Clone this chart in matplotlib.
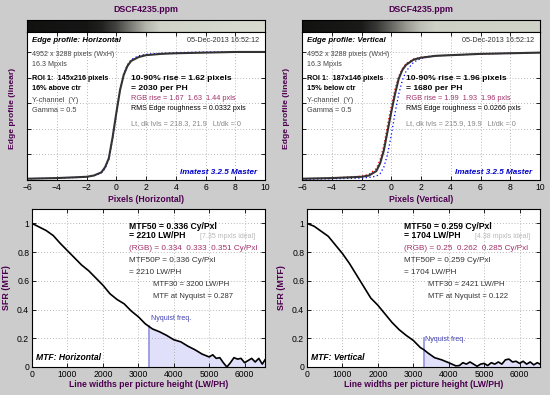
import numpy as np
import matplotlib
matplotlib.use("Agg")
import matplotlib.pyplot as plt
from matplotlib.colors import LinearSegmentedColormap

plt.rcParams['font.family'] = ['Liberation Sans', 'DejaVu Sans']

W, H = 550, 395
BG = '#cccccc'
PURPLE = '#4d0050'
MAGENTA = '#a0306a'

# ---------------- data ----------------
edge_x_h = [-6, -4, -2, -1.5, -1, -0.75, -0.5, -0.25, 0, 0.25, 0.5, 0.75, 1, 1.5, 2, 3, 4, 6, 8, 10]
edge_y_h = [0.01, 0.015, 0.025, 0.035, 0.06, 0.1, 0.17, 0.33, 0.52, 0.7, 0.82, 0.89, 0.93, 0.96, 0.975, 0.985, 0.99, 0.995, 1.0, 1.0]
edge_b_h = [0.01, 0.015, 0.022, 0.033, 0.055, 0.09, 0.16, 0.32, 0.51, 0.7, 0.83, 0.9, 0.94, 0.97, 0.982, 0.99, 0.995, 1.0, 1.0, 1.0]

edge_x_v = [-6, -4, -2, -1.5, -1, -0.75, -0.5, -0.25, 0, 0.25, 0.5, 0.75, 1, 1.5, 2, 3, 4, 6, 8, 10]
edge_y_v = [0.01, 0.015, 0.025, 0.035, 0.07, 0.13, 0.23, 0.38, 0.53, 0.67, 0.79, 0.86, 0.9, 0.94, 0.955, 0.97, 0.975, 0.985, 0.99, 0.995]
edge_b_v = [0.005, 0.01, 0.015, 0.02, 0.03, 0.05, 0.1, 0.2, 0.35, 0.52, 0.67, 0.78, 0.85, 0.92, 0.95, 0.97, 0.975, 0.985, 0.99, 0.995]
edge_r_v = [0.01, 0.015, 0.03, 0.045, 0.09, 0.16, 0.27, 0.43, 0.58, 0.71, 0.81, 0.87, 0.91, 0.945, 0.96, 0.97, 0.975, 0.985, 0.99, 0.995]

strip_x = [-6, -2, -1, 0, 1, 2, 3, 10]
strip_h = [0.08, 0.1, 0.15, 0.3, 0.55, 0.8, 0.93, 0.97]
strip_v = [0.08, 0.12, 0.25, 0.45, 0.68, 0.85, 0.92, 0.93]

mtf_x_h = [0, 200, 400, 600, 800, 1000, 1200, 1400, 1600, 1800, 2000, 2200, 2400, 2600, 2800,
           3000, 3200, 3400, 3600, 3800, 4000, 4200, 4400, 4600, 4800, 5000, 5100, 5200, 5300,
           5400, 5500, 5600, 5700, 5800, 5900, 6000, 6100, 6200, 6300, 6400, 6500, 6576]
mtf_y_h = [1.0, 0.975, 0.95, 0.915, 0.86, 0.81, 0.76, 0.71, 0.67, 0.62, 0.57, 0.51, 0.47, 0.44, 0.39,
           0.35, 0.30, 0.265, 0.245, 0.22, 0.19, 0.175, 0.145, 0.12, 0.09, 0.07, 0.085, 0.06, 0.065,
           0.03, 0.0, 0.03, 0.065, 0.055, 0.06, 0.03, 0.045, 0.06, 0.035, 0.06, 0.02, 0.05]

mtf_x_v = [0, 200, 400, 600, 800, 1000, 1200, 1400, 1600, 1800, 2000, 2200, 2400, 2600, 2800,
           3000, 3200, 3300, 3400, 3600, 3800, 4000, 4200, 4300, 4400, 4500, 4600, 4700, 4800,
           4900, 5000, 5100, 5200, 5300, 5400, 5500, 5600, 5700, 5800, 5900, 6000, 6100, 6200,
           6300, 6400, 6500, 6576]
mtf_y_v = [1.0, 0.98, 0.945, 0.91, 0.85, 0.79, 0.72, 0.64, 0.56, 0.48, 0.43, 0.37, 0.31, 0.26, 0.22,
           0.185, 0.135, 0.12, 0.10, 0.065, 0.05, 0.03, 0.008, 0.01, 0.03, 0.02, 0.035, 0.02, 0.005,
           0.02, 0.025, 0.01, 0.03, 0.02, 0.035, 0.02, 0.05, 0.055, 0.035, 0.04, 0.025, 0.04, 0.02,
           0.035, 0.015, 0.03, 0.02]

nyquist = 3288
mtf_nyq = [0.287, 0.122]

# ---------------- figure ----------------
fig = plt.figure(figsize=(W / 100, H / 100), dpi=100, facecolor=BG)


def ax_px(x0, y0, x1, y1):
    return fig.add_axes([x0 / W, 1 - y1 / H, (x1 - x0) / W, (y1 - y0) / H])


def ftext(x, y, s, **kw):
    kw.setdefault('va', 'center')
    kw.setdefault('fontsize', 5.1)
    fig.text(x / W, 1 - y / H, s, **kw)


def style(ax):
    ax.tick_params(direction='in', top=True, right=True, length=3, width=0.6,
                   labelsize=6.2, pad=2, colors='black')
    ax.grid(True, linestyle=(0, (1, 2.5)), color='#a0a0a0', linewidth=0.6)
    for s in ax.spines.values():
        s.set_linewidth(0.8)


strip_cmap = LinearSegmentedColormap.from_list('strip', ['#000000', '#dfe2d6'])

panels = [
    dict(dx=0, ex=edge_x_h, ey=edge_y_h, eb=edge_b_h, er=None, strip=strip_h,
         name='Horizontal', roi='ROI 1:  145x216 pixels', pos='16% above ctr',
         rise='10-90% rise = 1.62 pixels', perph='= 2030 per PH',
         rgb='RGB rise = 1.67  1.63  1.44 pxls', rms='RMS Edge roughness = 0.0332 pxls',
         lvls='Lt, dk lvls = 218.3, 21.9   Lt/dk = 0',
         mx=mtf_x_h, my=mtf_y_h, nyq=mtf_nyq[0],
         m50='MTF50 = 0.336 Cy/Pxl', m50l='= 2210 LW/PH', ideal='[7.35 mpxls ideal]',
         mrgb='(RGB) = 0.334  0.333  0.351 Cy/Pxl', m50p='MTF50P = 0.336 Cy/Pxl',
         m50pl='= 2210 LW/PH', m30='MTF30 = 3200 LW/PH', mny='MTF at Nyquist = 0.287'),
    dict(dx=275, ex=edge_x_v, ey=edge_y_v, eb=edge_b_v, er=edge_r_v, strip=strip_v,
         name='Vertical', roi='ROI 1:  187x146 pixels', pos='15% below ctr',
         rise='10-90% rise = 1.96 pixels', perph='= 1680 per PH',
         rgb='RGB rise = 1.99  1.93  1.96 pxls', rms='RMS Edge roughness = 0.0266 pxls',
         lvls='Lt, dk lvls = 215.9, 19.9   Lt/dk = 0',
         mx=mtf_x_v, my=mtf_y_v, nyq=mtf_nyq[1],
         m50='MTF50 = 0.259 Cy/Pxl', m50l='= 1704 LW/PH', ideal='[4.38 mpxls ideal]',
         mrgb='(RGB) = 0.25  0.262  0.285 Cy/Pxl', m50p='MTF50P = 0.259 Cy/Pxl',
         m50pl='= 1704 LW/PH', m30='MTF30 = 2421 LW/PH', mny='MTF at Nyquist = 0.122'),
]

for p in panels:
    dx = p['dx']
    # ---- gradient strip ----
    sax = ax_px(27 + dx, 20, 265 + dx, 32)
    xs = np.linspace(-6, 10, 400)
    vals = np.interp(xs, strip_x, p['strip'])
    sax.imshow(vals[None, :], cmap=strip_cmap, vmin=0, vmax=1, aspect='auto',
               extent=(-6, 10, 0, 1), interpolation='nearest')
    sax.set_xticks([]); sax.set_yticks([])
    for s in sax.spines.values():
        s.set_linewidth(0.8)

    # ---- edge profile ----
    ax = ax_px(27 + dx, 32, 265 + dx, 180)
    ax.set_facecolor('white')
    ax.set_xlim(-6, 10)
    ax.set_ylim(0, 1.156)
    ax.set_xticks(range(-6, 11, 2))
    ax.set_yticks([0, 0.2, 0.4, 0.6, 0.8, 1.0])
    ax.set_yticklabels([])
    style(ax)
    if p['er'] is not None:
        ax.plot(p['ex'], p['er'], linestyle=(0, (1, 2)), color='red', linewidth=0.9)
    ax.plot(p['ex'], p['eb'], linestyle=(0, (1, 2)), color='blue', linewidth=0.9)
    ax.plot(p['ex'], p['ey'], color='#333333', linewidth=1.5)
    ax.set_xlabel('Pixels (' + p['name'] + ')', color=PURPLE, fontweight='bold',
                  fontsize=6.2, labelpad=2)

    ftext(146 + dx, 10, 'DSCF4235.ppm', ha='center', color=PURPLE, fontweight='bold', fontsize=6.4)
    ftext(12 + dx, 108, 'Edge profile (linear)', ha='center', color=PURPLE,
          fontweight='bold', fontsize=6.1, rotation=90)
    ftext(32 + dx, 41, 'Edge profile: ' + p['name'], ha='left', fontweight='bold',
          fontstyle='italic', fontsize=5.7)
    ftext(259 + dx, 41, '05-Dec-2013 16:52:12', ha='right', color='#333333', fontsize=5.2)
    ftext(32 + dx, 54, '4952 x 3288 pixels (WxH)', ha='left', color='#444444')
    ftext(32 + dx, 65, '16.3 Mpxls', ha='left', color='#444444')
    ftext(32 + dx, 79, p['roi'], ha='left', fontweight='bold', fontsize=5.2)
    ftext(32 + dx, 89, p['pos'], ha='left', fontweight='bold', fontsize=5.2)
    ftext(32 + dx, 100, 'Y-channel  (Y)', ha='left', color='#444444', fontsize=5.3)
    ftext(32 + dx, 110, 'Gamma = 0.5', ha='left', color='#444444', fontsize=5.3)
    ftext(131 + dx, 78, p['rise'], ha='left', fontweight='bold', fontsize=6.1)
    ftext(131 + dx, 88, p['perph'], ha='left', fontweight='bold', fontsize=6.1)
    ftext(131 + dx, 99, p['rgb'], ha='left', color=MAGENTA, fontsize=5.3)
    ftext(131 + dx, 109, p['rms'], ha='left', color='black', fontsize=5.1)
    ftext(131 + dx, 124, p['lvls'], ha='left', color='#888888', fontsize=5.3)
    ftext(257 + dx, 173, 'Imatest 3.2.5 Master', ha='right', color='#0000cc',
          fontweight='bold', fontstyle='italic', fontsize=5.9)

    # ---- MTF ----
    bx0 = 32 if dx == 0 else 307
    mx = ax_px(bx0, 209, 265 + dx, 367)
    mx.set_facecolor('white')
    mx.set_xlim(0, 6576)
    mx.set_ylim(0, 1.1)
    mx.set_xticks(range(0, 6001, 1000))
    mx.set_yticks([0, 0.2, 0.4, 0.6, 0.8, 1.0])
    mx.set_yticklabels(['0', '0.2', '0.4', '0.6', '0.8', '1'])
    style(mx)
    xarr = np.array(p['mx'], dtype=float)
    yarr = np.array(p['my'], dtype=float)
    mask = xarr >= nyquist
    xf = np.concatenate([[nyquist], xarr[mask]])
    yf = np.concatenate([[np.interp(nyquist, xarr, yarr)], yarr[mask]])
    mx.fill_between(xf, 0, yf, color='#e0e0fa', linewidth=0)
    mx.plot([nyquist, nyquist], [0, max(p['nyq'], 0.2)], color='#9a9ae0', linewidth=1.3)
    mx.plot(xarr, yarr, color='black', linewidth=1.2)
    if dx == 0:
        mx.text(nyquist + 60, 0.335, 'Nyquist freq.', color='#4040b0', fontsize=5.1, va='center')
    else:
        mx.text(nyquist + 30, 0.19, 'Nyquist freq.', color='#4040b0', fontsize=5.1, va='center')
    mx.set_xlabel('Line widths per picture height (LW/PH)', color=PURPLE, fontweight='bold',
                  fontsize=6.2, labelpad=1)
    ftext(7 + dx, 288, 'SFR (MTF)', ha='center', color=PURPLE, fontweight='bold',
          fontsize=6.4, rotation=90)
    tx = 129 + dx
    ftext(tx, 226, p['m50'], ha='left', fontweight='bold', fontsize=6.2)
    ftext(tx, 236, p['m50l'], ha='left', fontweight='bold', fontsize=6.2)
    ftext(200 + dx, 236, p['ideal'], ha='left', color='#b8b8b8', fontsize=5)
    ftext(tx, 248, p['mrgb'], ha='left', color=MAGENTA, fontsize=5.9)
    ftext(tx, 261, p['m50p'], ha='left', color='#333333', fontsize=5.9)
    ftext(tx, 272, p['m50pl'], ha='left', color='#333333', fontsize=5.9)
    ftext(tx + 24, 285, p['m30'], ha='left', color='#333333', fontsize=5.6)
    ftext(tx + 24, 296, p['mny'], ha='left', color='#333333', fontsize=5.5)
    ftext(bx0 + 4, 358, 'MTF: ' + p['name'], ha='left', fontweight='bold',
          fontstyle='italic', fontsize=6.2)

fig.savefig('out.png', dpi=100, facecolor=BG)
